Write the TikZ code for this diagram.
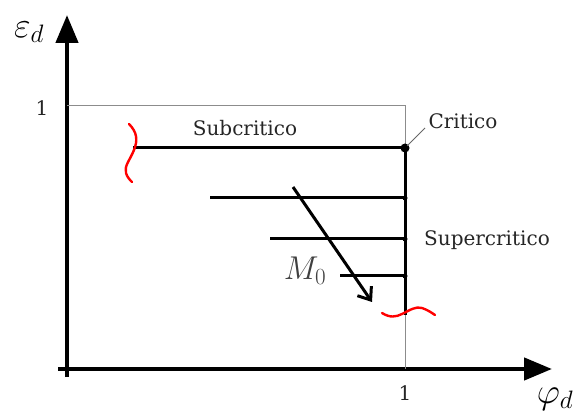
\documentclass[tikz,border=0pt]{standalone}
\usepackage{fix-cm}
\usepackage{fontspec}
\setmainfont{DejaVu Serif}
\usepackage{tikz}
\usetikzlibrary{arrows.meta, positioning, calc}

\begin{document}
\begin{tikzpicture}[
  x=1pt, y=-1pt,
  every node/.style={font=\fontsize{20}{24}\selectfont, text=black!85},
  axis/.style={line width=4.5pt, -{Triangle[length=28pt, width=22pt]}},
  frame/.style={draw=black!45, line width=0.8pt},
  branch/.style={line width=3pt},
  leader/.style={draw=black!60, line width=0.8pt},
  cut/.style={draw=red, line width=2.4pt, line cap=round},
  moveline/.style={line width=3pt, -{Straight Barb[length=11pt, width=17pt]}},
  mathlabel/.style={font=\fontsize{36}{40}\selectfont, text=black},
]
  \useasboundingbox (0,0) rectangle (576,414);

  % axes
  \coordinate (ybase) at (67,377);
  \coordinate (ytip) at (67,15);
  \coordinate (xbase) at (58,369);
  \coordinate (xtip) at (552,369);
  \draw[axis] (ybase) -- (ytip);
  \draw[axis] (xbase) -- (xtip);
  \node[mathlabel] (eps) at (29,32) {$\varepsilon_d$};
  \node[mathlabel, inner sep=1pt] (phi) at (555,399) {$\varphi_d$};

  % unit frame
  \coordinate (ytop) at (67,105);
  \coordinate (xone) at (405,369);
  \draw[frame] (ytop) -| (xone);
  \node (oney) at (42,108) {1};
  \node (onex) at (405,393) {1};

  % critical point and branches
  \coordinate (c) at (405,148);
  \coordinate (b1) at (405,198);
  \coordinate (b2) at (405,239);
  \coordinate (b3) at (405,276);
  \coordinate (bend) at (405,315);
  \coordinate (a0) at (133,148);
  \coordinate (a1) at (210,198);
  \coordinate (a2) at (270,239);
  \coordinate (a3) at (340,276);
  \draw[branch] (a0) -- (c) -- (bend);
  \draw[branch] (a1) -- (b1);
  \draw[branch] (a2) -- (b2);
  \draw[branch] (a3) -- (b3);
  \fill (c) circle (4.5pt);
  \foreach \p in {b1,b2,b3} \fill (\p) circle (2.5pt);

  \node (sub) at (245,128) {Subcritico};
  \node (crit) at (463,121) {Critico};
  \node (super) at (487,240) {Supercritico};
  \coordinate (critlead) at (425,128);
  \draw[leader, shorten <=3pt] (c) -- (critlead);

  % M0 direction
  \coordinate (m0s) at (293,187);
  \coordinate (m0e) at (372,302);
  \draw[moveline] (m0s) -- (m0e);
  \node[font=\fontsize{33}{36}\selectfont, text=black!75] (m0) at (305,271) {$M_0$};

  % breaks
  \draw[cut] (129,124) .. controls (137,132) and (138,140) .. (134,150)
    .. controls (130,160) and (124,166) .. (126,173)
    .. controls (127,177) and (130,180) .. (132,182);
  \draw[cut] (382,313) .. controls (390,318) and (396,317) .. (402,314)
    .. controls (410,310) and (416,306) .. (422,308)
    .. controls (428,310) and (432,313) .. (435,315);
\end{tikzpicture}
\end{document}
